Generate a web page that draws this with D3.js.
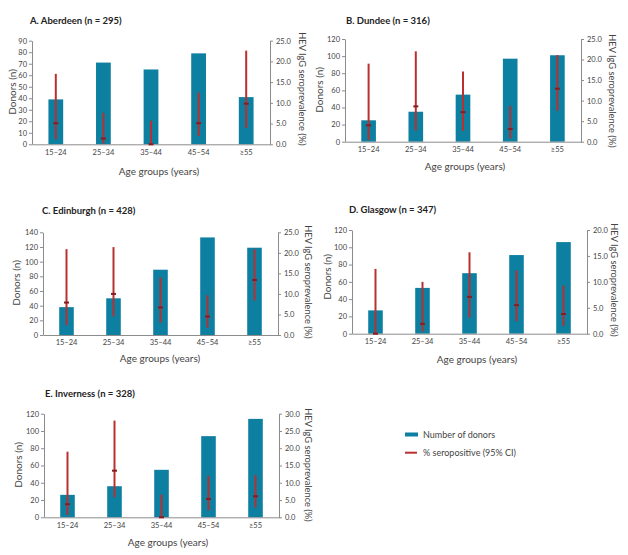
<!DOCTYPE html>
<html>
<head>
<meta charset="utf-8">
<script src="https://cdn.jsdelivr.net/npm/d3@7"></script>
<style>
  body { margin: 0; background: #fff; }
  svg { display: block; font-family: Lato, "Noto Sans", sans-serif; }
</style>
</head>
<body>
<svg id="chart" width="628" height="555"></svg>
<script>
// ---------------- DATA ----------------
const categories = ["15–24", "25–34", "35–44", "45–54", "≥55"];

const titles = ["A. Aberdeen (n = 295)", "B. Dundee (n = 316)", "C. Edinburgh (n = 428)",
                "D. Glasgow (n = 347)", "E. Inverness (n = 328)"];

// donors per age group
const donorsA = [39, 71, 65, 79, 41];
const donorsB = [25, 35, 55, 97, 101];
const donorsC = [38, 50, 89, 133, 119];
const donorsD = [27, 53, 70, 91, 106];
const donorsE = [26, 36, 55, 94, 114];

// % seropositive: point estimate, lower 95% CI, upper 95% CI
const seroA = [5.1, 1.4, 0.0, 5.1, 9.8];
const loA   = [1.2, 0.2, 0.0, 2.0, 3.9];
const hiA   = [17.0, 7.6, 5.7, 12.5, 22.6];

const seroB = [4.0, 8.6, 7.2, 3.1, 12.9];
const loB   = [0.4, 2.7, 2.6, 0.8, 7.5];
const hiB   = [19.0, 22.0, 17.1, 8.7, 21.1];

const seroC = [7.9, 10.0, 6.7, 4.5, 13.4];
const loC   = [2.4, 4.5, 3.0, 1.8, 8.4];
const hiC   = [20.9, 21.4, 14.0, 9.7, 20.9];

const seroD = [0.0, 1.9, 7.1, 5.5, 3.8];
const loD   = [0.0, 0.4, 3.1, 2.4, 1.5];
const hiD   = [12.5, 10.0, 15.7, 12.2, 9.3];

const seroE = [3.8, 13.5, 0.0, 5.3, 6.1];
const loE   = [0.7, 5.8, 0.0, 2.0, 2.8];
const hiE   = [19.0, 28.0, 6.6, 12.0, 12.2];

// axis ranges and tick steps
const leftMax  = [90, 120, 140, 120, 120];
const leftStep = [10, 20, 20, 20, 20];
const rightMax = [25, 25, 25, 20, 30];
const rightStep = 5;

const legendLabels = ["Number of donors", "% seropositive (95% CI)"];

// ---------------- LAYOUT ----------------
const layout = [
  { x0: 32,  x1: 270, top: 40.7,  bot: 144.3, tx: 30,  ty: 23.5,  ylx: 12,  yly: 92,  rlx: 302, rly: 89,  xly: 175, xlx: 159 },
  { x0: 345, x1: 581, top: 39,    bot: 141.7, tx: 346, ty: 24,    ylx: 319, yly: 90,  rlx: 612, rly: 91,  xly: 170, xlx: 465 },
  { x0: 43,  x1: 278, top: 232.3, bot: 335,   tx: 42,  ty: 213.5, ylx: 16,  yly: 283, rlx: 308, rly: 282, xly: 362, xlx: 160 },
  { x0: 352, x1: 587, top: 230,   bot: 333.7, tx: 349, ty: 213,   ylx: 327, yly: 277, rlx: 614, rly: 280, xly: 363, xlx: 477 },
  { x0: 44,  x1: 279, top: 413.7, bot: 517.3, tx: 45,  ty: 396.5, ylx: 18,  yly: 465, rlx: 308, rly: 465, xly: 546, xlx: 168 }
];

const BAR = "#0d7fa1";
const ERR = "#b8302f";
const PT  = "#8a1c1f";
const AX  = "#8c8c8c";
const TXT = "#444";

const svg = d3.select("#chart");

const donors = [donorsA, donorsB, donorsC, donorsD, donorsE];
const sero = [seroA, seroB, seroC, seroD, seroE];
const los = [loA, loB, loC, loD, loE];
const his = [hiA, hiB, hiC, hiD, hiE];

layout.forEach((L, i) => {
  const g = svg.append("g");
  const x = d3.scaleBand().domain(categories).range([L.x0, L.x1]).paddingInner(0).paddingOuter(0);
  const yL = d3.scaleLinear().domain([0, leftMax[i]]).range([L.bot, L.top]);
  const yR = d3.scaleLinear().domain([0, rightMax[i]]).range([L.bot, L.top]);

  // title
  g.append("text").attr("x", L.tx).attr("y", L.ty)
    .attr("font-size", 9.5).attr("font-weight", "bold").attr("fill", "#222")
    .text(titles[i]);

  // bars
  const bw = x.bandwidth() * 0.31;
  g.selectAll("rect.bar").data(donors[i]).join("rect")
    .attr("class", "bar")
    .attr("x", (d, j) => x(categories[j]) + x.bandwidth() / 2 - bw / 2)
    .attr("width", bw)
    .attr("y", d => yL(d))
    .attr("height", d => yL(0) - yL(d))
    .attr("fill", BAR);

  // left axis
  const leftTicks = d3.range(0, leftMax[i] + 0.001, leftStep[i]);
  const ax = g.append("g").attr("transform", `translate(${L.x0},0)`)
    .call(d3.axisLeft(yL).tickValues(leftTicks).tickSize(3).tickPadding(2).tickSizeOuter(0).tickFormat(d3.format("d")));
  // right axis
  const rightTicks = d3.range(0, rightMax[i] + 0.001, rightStep);
  const ar = g.append("g").attr("transform", `translate(${L.x1},0)`)
    .call(d3.axisRight(yR).tickValues(rightTicks).tickSize(3).tickPadding(3).tickSizeOuter(0).tickFormat(d3.format(".1f")));
  // bottom axis
  const ab = g.append("g").attr("transform", `translate(0,${L.bot})`)
    .call(d3.axisBottom(x).tickSize(0).tickPadding(5).tickSizeOuter(0));

  [ax, ar, ab].forEach(a => {
    a.selectAll("path,line").attr("stroke", AX).attr("stroke-width", 1);
    a.selectAll("text").attr("fill", TXT).attr("font-size", 7.5).attr("font-family", "Lato, sans-serif");
  });

  // error bars
  const cx = j => x(categories[j]) + x.bandwidth() / 2;
  g.selectAll("line.err").data(sero[i]).join("line")
    .attr("class", "err")
    .attr("x1", (d, j) => cx(j)).attr("x2", (d, j) => cx(j))
    .attr("y1", (d, j) => yR(los[i][j])).attr("y2", (d, j) => yR(his[i][j]))
    .attr("stroke", ERR).attr("stroke-width", 2);
  g.selectAll("rect.pt").data(sero[i]).join("rect")
    .attr("class", "pt")
    .attr("x", (d, j) => cx(j) - 2.5).attr("width", 5)
    .attr("y", d => yR(d) - 1).attr("height", 2)
    .attr("fill", PT);

  // axis titles
  g.append("text").attr("transform", `translate(${L.ylx},${L.yly}) rotate(-90)`)
    .attr("text-anchor", "middle").attr("dominant-baseline", "central")
    .attr("font-size", 10).attr("fill", TXT).text("Donors (n)");
  g.append("text").attr("transform", `translate(${L.rlx},${L.rly}) rotate(90)`)
    .attr("text-anchor", "middle").attr("dominant-baseline", "central")
    .attr("font-size", 9.3).attr("fill", TXT).text("HEV IgG seroprevalence (%)");
  g.append("text").attr("x", L.xlx).attr("y", L.xly)
    .attr("text-anchor", "middle")
    .attr("font-size", 10).attr("fill", TXT).text("Age groups (years)");
});

// legend
const lg = svg.append("g");
lg.append("rect").attr("x", 405).attr("y", 432.5).attr("width", 13).attr("height", 4).attr("fill", BAR);
lg.append("text").attr("x", 423).attr("y", 434.5).attr("dominant-baseline", "central")
  .attr("font-size", 9).attr("fill", TXT).text(legendLabels[0]);
lg.append("line").attr("x1", 405).attr("x2", 417).attr("y1", 452.7).attr("y2", 452.7)
  .attr("stroke", ERR).attr("stroke-width", 2);
lg.append("text").attr("x", 423).attr("y", 452.7).attr("dominant-baseline", "central")
  .attr("font-size", 9).attr("fill", TXT).text(legendLabels[1]);
</script>
</body>
</html>
